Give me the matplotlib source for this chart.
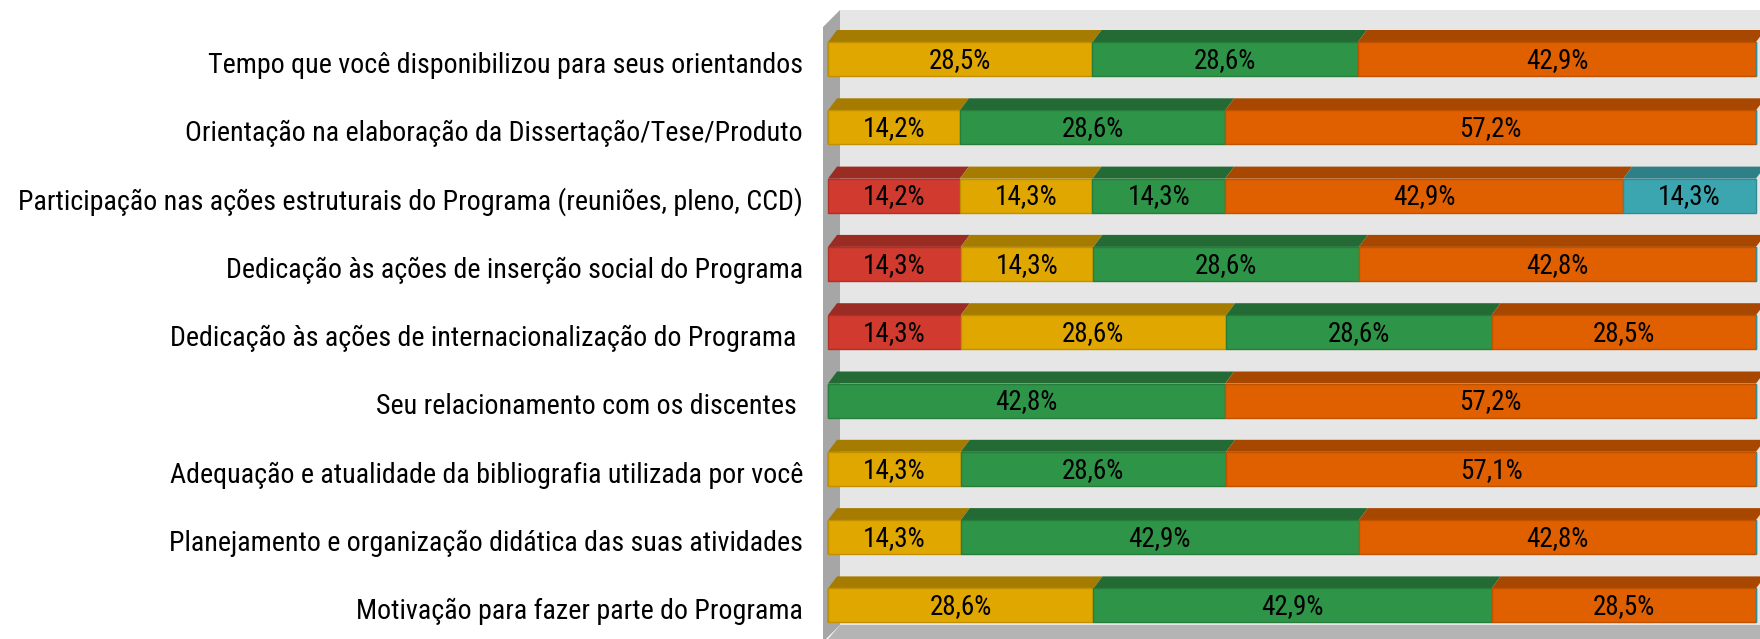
import matplotlib
matplotlib.use("Agg")
import matplotlib.pyplot as plt
from matplotlib.patches import Polygon, Rectangle
from matplotlib import font_manager
import numpy as np

# narrow font, close to Arial Narrow
available = {f.name for f in font_manager.fontManager.ttflist}
narrow = [n for n in ["Liberation Sans Narrow", "Arial Narrow", "Roboto Condensed",
                      "Archivo Narrow", "PT Sans Narrow"] if n in available]
plt.rcParams["font.family"] = narrow[:1] + ["DejaVu Sans"]

# Data (top to bottom)
categories = [
    "Tempo que você disponibilizou para seus orientandos",
    "Orientação na elaboração da Dissertação/Tese/Produto",
    "Participação nas ações estruturais do Programa (reuniões, pleno, CCD)",
    "Dedicação às ações de inserção social do Programa",
    "Dedicação às ações de internacionalização do Programa ",
    "Seu relacionamento com os discentes ",
    "Adequação e atualidade da bibliografia utilizada por você",
    "Planejamento e organização didática das suas atividades",
    "Motivação para fazer parte do Programa",
]
ruim = [0, 0, 14.2, 14.3, 14.3, 0, 0, 0, 0]
regular = [28.5, 14.2, 14.3, 14.3, 28.6, 0, 14.3, 14.3, 28.6]
bom = [28.6, 28.6, 14.3, 28.6, 28.6, 42.8, 28.6, 42.9, 42.9]
otimo = [42.9, 57.2, 42.9, 42.8, 28.5, 57.2, 57.1, 42.8, 28.5]
nao_se_aplica = [0, 0, 14.3, 0, 0, 0, 0, 0, 0]

series = [ruim, regular, bom, otimo, nao_se_aplica]
front_colors = ["#D13B2F", "#DFA700", "#2E9447", "#E06000", "#3BA6B0"]
top_colors = ["#9B2C23", "#A67C00", "#236A35", "#A84800", "#2E7F86"]
edge_colors = ["#B03025", "#C09000", "#267D3C", "#C05200", "#318C95"]

W, H = 1760, 639
fig = plt.figure(figsize=(W / 100, H / 100), dpi=100)
fig.patch.set_facecolor("white")

# axes placed in pixels
ax_l, ax_r, ax_t, ax_b = 823, 1760, 10, 639
ax = fig.add_axes([ax_l / W, 1 - ax_b / H, (ax_r - ax_l) / W, (ax_b - ax_t) / H])

x0_px, x100_px = 828, 1756
ppx = (x100_px - x0_px) / 100.0
row0_px, pitch = 59, 68.3
xlim = (-(x0_px - ax_l) / ppx, 100 + (ax_r - x100_px) / ppx)
ylim = (8 + (ax_b - (row0_px + 8 * pitch)) / pitch, -(row0_px - ax_t) / pitch)
ax.set_xlim(*xlim)
ax.set_ylim(*ylim)
ax.axis("off")


def px_to_data(px, py):
    return xlim[0] + (px - ax_l) / ppx, ylim[1] + (py - ax_t) / pitch


# back wall, left wall, floor
floor_y = 625
wall_x, wall_top = px_to_data(840, ax_t)
_, wall_bot = px_to_data(840, floor_y)
ax.add_patch(Rectangle((wall_x, wall_top), xlim[1] - wall_x, wall_bot - wall_top,
                       facecolor="#E6E6E6", edgecolor="none", zorder=0))
lw = [px_to_data(823, 27), px_to_data(840, ax_t), px_to_data(840, floor_y), px_to_data(823, 642)]
ax.add_patch(Polygon(lw, closed=True, facecolor="#A6A6A6", edgecolor="none", zorder=0))
fl = [px_to_data(840, floor_y), px_to_data(1765, floor_y), px_to_data(1765, 645), px_to_data(823, 645)]
ax.add_patch(Polygon(fl, closed=True, facecolor="#B4B4B4", edgecolor="none", zorder=0))

rows = np.arange(len(categories))
bar_h = 34 / pitch
dx = 9 / ppx
dy = -12 / pitch

left = np.zeros(len(categories))
for vals, fc, tc, ec in zip(series, front_colors, top_colors, edge_colors):
    vals = np.array(vals, dtype=float)
    ax.barh(rows, vals, left=left, height=bar_h, color=fc, edgecolor=ec,
            linewidth=1, zorder=3)
    for r, (l, v) in enumerate(zip(left, vals)):
        if v <= 0:
            continue
        yt = r - bar_h / 2
        # top face of the 3D bar
        ax.add_patch(Polygon([(l, yt), (l + dx, yt + dy), (l + v + dx, yt + dy), (l + v, yt)],
                             closed=True, facecolor=tc, edgecolor="none", zorder=2))
        ax.text(l + v / 2, r + 0.02, f"{v:.1f}%".replace(".", ","), ha="center", va="center",
                fontsize=19.5, color="black", zorder=5)
    left += vals

for r, cat in enumerate(categories):
    ax.text(xlim[0] - 20 / ppx, r + 0.09, cat, ha="right", va="center",
            fontsize=20.2, color="black", clip_on=False)

fig.savefig("out.png", dpi=100, facecolor="white")
